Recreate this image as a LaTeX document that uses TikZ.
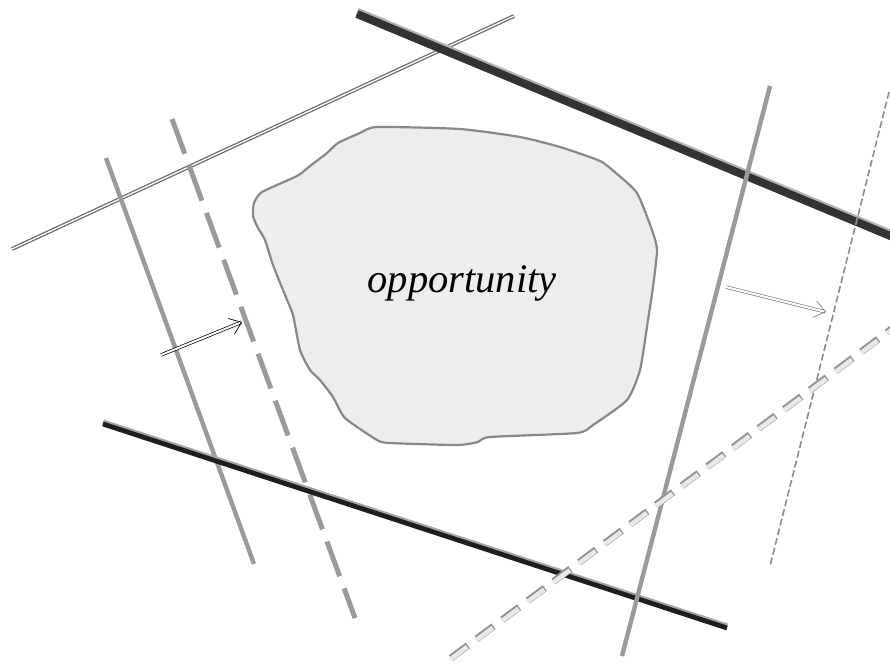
\documentclass[tikz,border=0pt]{standalone}
\usetikzlibrary{arrows.meta}
\usepackage{fontspec}
\setmainfont{Liberation Serif}
\definecolor{blobfill}{HTML}{EDEDED}
\definecolor{blobedge}{HTML}{888888}
\definecolor{midgray}{HTML}{9A9A9A}
\definecolor{darkline}{HTML}{333333}
\definecolor{blackline}{HTML}{1E1E1E}
\begin{document}
\begin{tikzpicture}[x=1pt,y=-1pt,
  dbl/.style={draw=gray!85!black,line width=1.3pt,double=white,double distance=1.3pt},
  solidgray/.style={draw=midgray,line width=4.4pt},
  dashgray/.style={draw=midgray,line width=5pt,dash pattern=on 37pt off 13pt},
  thindash/.style={draw=gray!90,line width=1.6pt,dash pattern=on 7pt off 3pt},
  lightdashA/.style={draw=gray!85,line width=7pt,dash pattern=on 21pt off 11pt},
  lightdashB/.style={draw=gray!18,line width=4.5pt,dash pattern=on 21pt off 11pt},
  arrdbl/.style={double,double distance=2pt,line width=0.7pt,-{Straight Barb[length=11pt,width=17pt]}}
]
\useasboundingbox (0,0) rectangle (890,664);
\begin{scope}
\clip (0,0) rectangle (890,664);
% blob
\path[fill=blobfill,draw=blobedge,line width=2.2pt] plot[smooth cycle,tension=0.35] coordinates {
 (262,192) (297,176) (310,166) (327,153) (338,143) (360,133) (377,127) (460,129) (520,137) (560,147)
 (600,161) (617,174) (637,193) (652,230) (657,250) (653,287) (648,320) (640,370) (627,400) (593,425)
 (577,433) (490,437) (478,442) (457,445) (390,443) (377,440) (345,418) (333,397) (320,380) (310,370)
 (300,350) (293,315) (285,295) (273,265) (265,240) (258,228) (253,216) (254,203)};
\node (opp) at (462,283) {\fontsize{40.5}{42}\selectfont\itshape opportunity};
% lines
\coordinate (a1) at (12,249); \coordinate (a2) at (514,16);
\draw[dbl] (a1) -- (a2);
\coordinate (b1) at (357,14); \coordinate (b2) at (900,240);
\draw[draw=gray!60,line width=9pt] ([yshift=1.8pt]b1) -- ([yshift=1.8pt]b2);
\draw[draw=darkline,line width=8pt] (b1) -- (b2);
\coordinate (c1) at (106,158); \coordinate (c2) at (254,564);
\draw[solidgray] (c1) -- (c2);
\coordinate (d1) at (172,119); \coordinate (d2) at (355,618);
\draw[dashgray] (d1) -- (d2);
\coordinate (e1) at (103,424); \coordinate (e2) at (727,628);
\draw[draw=gray!70,line width=5.5pt] ([yshift=1.8pt]e1) -- ([yshift=1.8pt]e2);
\draw[draw=blackline,line width=4.8pt] (e1) -- (e2);
\coordinate (f1) at (770,86); \coordinate (f2) at (622,656);
\draw[solidgray] (f1) -- (f2);
\coordinate (g1) at (889,92); \coordinate (g2) at (770,566);
\draw[thindash] (g1) -- (g2);
\coordinate (h1) at (451,658); \coordinate (h2) at (905,319);
\draw[lightdashA] (h1) -- (h2);
\draw[lightdashB] ([xshift=-0.6pt,yshift=-1.4pt]h1) -- ([xshift=-0.6pt,yshift=-1.4pt]h2);
% arrows
\coordinate (p1) at (161,355); \coordinate (p2) at (242,322);
\draw[arrdbl,draw=black] (p1) -- (p2);
\coordinate (q1) at (726,287); \coordinate (q2) at (826,312);
\draw[arrdbl,draw=gray] (q1) -- (q2);
\end{scope}
\end{tikzpicture}
\end{document}
